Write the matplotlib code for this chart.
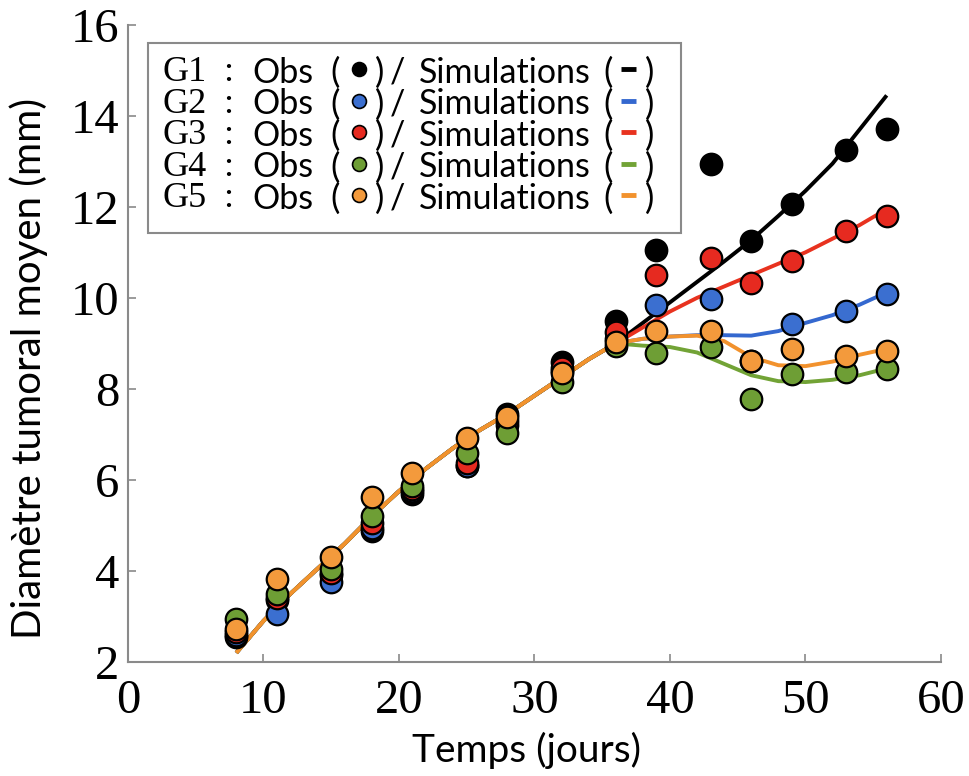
"""Diamètre tumoral moyen : observations vs simulations (G1-G5)."""

import matplotlib

matplotlib.use("Agg")
import matplotlib.pyplot as plt
from matplotlib.patches import Rectangle

# --- data ------------------------------------------------------------------
obs_days = [8, 11, 15, 18, 21, 25, 28, 32, 36, 39, 43, 46, 49, 53, 56]
obs_g1 = [2.55, 3.35, 3.9, 4.88, 5.7, 6.3, 7.45, 8.6, 9.5, 11.05, 12.95, 11.25, 12.07, 13.25, 13.72]
obs_g2 = [2.6, 3.05, 3.75, 4.95, 5.75, 6.3, 7.2, 8.4, 9.1, 9.85, 9.98, 8.62, 9.42, 9.72, 10.08]
obs_g3 = [2.65, 3.4, 3.95, 5.05, 5.8, 6.38, 7.3, 8.45, 9.25, 10.5, 10.87, 10.32, 10.82, 11.48, 11.8]
obs_g4 = [2.95, 3.5, 4.05, 5.2, 5.87, 6.6, 7.03, 8.15, 8.95, 8.78, 8.93, 7.78, 8.32, 8.38, 8.43]
obs_g5 = [2.72, 3.82, 4.3, 5.62, 6.15, 6.93, 7.38, 8.35, 9.02, 9.28, 9.27, 8.62, 8.87, 8.72, 8.83]

# simulations: shared trunk up to day 36, then one branch per group
sim_days_common = [8, 10, 12, 14, 16, 18, 20, 22, 24, 26, 28, 30, 32, 34, 36]
sim_common = [2.2, 2.9, 3.5, 4.05, 4.6, 5.2, 5.75, 6.25, 6.7, 7.1, 7.45, 7.85, 8.25, 8.65, 9.0]
sim_days_tail = [38, 40, 42, 44, 46, 48, 50, 52, 54, 56]
sim_g1 = [9.45, 9.9, 10.35, 10.8, 11.27, 11.8, 12.35, 12.95, 13.7, 14.45]
sim_g2 = [9.1, 9.15, 9.18, 9.18, 9.17, 9.27, 9.45, 9.62, 9.85, 10.12]
sim_g3 = [9.35, 9.7, 10.0, 10.25, 10.5, 10.75, 11.0, 11.3, 11.6, 11.95]
sim_g4 = [8.95, 8.92, 8.8, 8.55, 8.3, 8.17, 8.15, 8.2, 8.3, 8.45]
sim_g5 = [9.1, 9.15, 9.17, 9.05, 8.7, 8.52, 8.5, 8.6, 8.75, 8.88]

groups = ["G1", "G2", "G3", "G4", "G5"]
point_colors = ["#000000", "#3b6fd0", "#e62a20", "#6e9e35", "#f39a3c"]
line_colors = ["#000000", "#3468cf", "#e8321f", "#72a336", "#f2922d"]

SANS = "Lato"
SERIF = "Liberation Serif"


def main() -> None:
    fig = plt.figure(figsize=(9.69, 7.76), dpi=100)
    ax = fig.add_axes([0.132, 0.147, 0.839, 0.821])

    obs = [obs_g1, obs_g2, obs_g3, obs_g4, obs_g5]
    sims = [sim_g1, sim_g2, sim_g3, sim_g4, sim_g5]

    for sim, col in zip(sims, line_colors):
        ax.plot(sim_days_common + sim_days_tail, sim_common + sim, color=col,
                linewidth=2.8, solid_capstyle="butt", zorder=2)
    for y, col in zip(obs, point_colors):
        ax.plot(obs_days, y, "o", markersize=15.5, markerfacecolor=col,
                markeredgecolor="black", markeredgewidth=1.6, linestyle="none", zorder=3)

    ax.set_xlim(0, 60)
    ax.set_ylim(2, 16)
    ax.set_xticks(range(0, 61, 10))
    ax.set_yticks(range(2, 17, 2))
    for side in ("top", "right"):
        ax.spines[side].set_visible(False)
    for side in ("left", "bottom"):
        ax.spines[side].set_color("#8a8a8a")
        ax.spines[side].set_linewidth(1.5)
    ax.tick_params(direction="in", length=6, width=1.2, color="#8a8a8a", labelsize=35)
    ax.tick_params(axis="x", pad=12)
    ax.tick_params(axis="y", pad=6)
    for lab in ax.get_xticklabels() + ax.get_yticklabels():
        lab.set_family(SERIF)

    ax.set_xlabel("Temps (jours)", fontsize=28, family=SANS)
    ax.xaxis.set_label_coords(0.49, -0.11)
    ax.set_ylabel("Diamètre tumoral moyen (mm)", fontsize=29, family=SANS)
    ax.yaxis.set_label_coords(-0.098, 0.46)

    # hand-made legend box
    tr = ax.transAxes
    ax.add_patch(Rectangle((0.0246, 0.6735), 0.656, 0.2985, transform=tr, fill=False,
                           edgecolor="#8a8a8a", linewidth=1.5, zorder=4))
    rows = [0.9247, 0.8752, 0.8257, 0.7763, 0.7268]
    for g, yy, pc, lc in zip(groups, rows, point_colors, line_colors):
        ax.text(0.043, yy, g, transform=tr, family=SERIF, fontsize=26,
                va="center", ha="left")
        ax.text(0.123, yy, ":", transform=tr, family=SERIF, fontsize=26,
                va="center", ha="center")
        ax.text(0.153, yy, "Obs", transform=tr, family=SANS, fontsize=24.5,
                va="center", ha="left")
        ax.text(0.255, yy, "(", transform=tr, family=SANS, fontsize=25, va="center", ha="center")
        ax.plot([0.284], [yy + 0.006], "o", transform=tr, markersize=10,
                markerfacecolor=pc, markeredgecolor="black", markeredgewidth=1.2, clip_on=False)
        ax.text(0.310, yy, ")", transform=tr, family=SANS, fontsize=25, va="center", ha="center")
        ax.text(0.332, yy, "/", transform=tr, family=SANS, fontsize=24.5, va="center", ha="center")
        ax.text(0.358, yy, "Simulations", transform=tr, family=SANS, fontsize=24.5,
                va="center", ha="left")
        ax.text(0.590, yy, "(", transform=tr, family=SANS, fontsize=25, va="center", ha="center")
        ax.plot([0.606, 0.625], [yy + 0.006] * 2, color=lc, linewidth=3.5,
                transform=tr, clip_on=False, solid_capstyle="butt")
        ax.text(0.642, yy, ")", transform=tr, family=SANS, fontsize=25, va="center", ha="center")

    fig.savefig("out.png", dpi=100)
    plt.close(fig)


if __name__ == "__main__":
    main()
